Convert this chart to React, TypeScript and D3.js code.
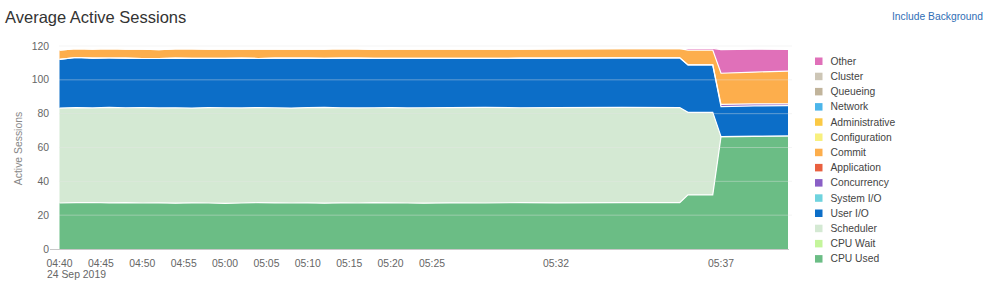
import React from "react";
import * as d3 from "d3";

const times = [
  "04:40:00", "04:42:00", "04:44:00", "04:46:00", "04:48:00", "04:50:00", "04:52:00", "04:54:00",
  "04:56:00", "04:58:00", "05:00:00", "05:02:00", "05:04:00", "05:06:00", "05:08:00", "05:10:00",
  "05:12:00", "05:14:00", "05:16:00", "05:18:00", "05:20:00", "05:22:00", "05:24:00", "05:26:00",
  "05:28:00", "05:30:00", "05:32:00", "05:34:00", "05:35:45", "05:36:00", "05:36:45", "05:37:00",
  "05:38:00", "05:39:00",
];

const cpuUsed = [
  27.2, 27.4, 27.5, 27.3, 27.4, 27.2, 27.3, 27.1, 27.3, 27.2, 27.0, 27.2, 27.4, 27.3, 27.2, 27.3,
  27.1, 27.3, 27.2, 27.4, 27.3, 27.2, 27.1, 27.3, 27.2, 27.4, 27.3, 27.4, 27.4, 32.0, 32.0, 66.4,
  66.6, 66.8,
];
const cpuWait = times.map(() => 0);
const scheduler = [
  56.1, 56.2, 55.9, 56.4, 56.1, 56.4, 56.1, 56.4, 56.0, 56.4, 56.5, 56.2, 56.2, 56.2, 56.1, 56.3,
  56.6, 56.2, 56.2, 56.1, 56.3, 56.2, 56.4, 56.3, 56.5, 56.1, 56.3, 56.3, 56.2, 48.8, 48.8, 0,
  0, 0,
];
const userIO = [
  28.8, 29.6, 29.4, 29.2, 29.3, 29.0, 29.2, 29.3, 29.4, 29.1, 29.2, 29.4, 29.0, 29.3, 29.5, 29.2,
  29.0, 29.3, 29.4, 29.2, 29.1, 29.3, 29.2, 29.1, 29.0, 29.3, 29.2, 29.3, 29.4, 28.0, 28.0, 17.8,
  18.0, 17.9,
];
const systemIO = times.map(() => 0);
const concurrency = [
  0, 0, 0, 0, 0, 0, 0, 0, 0, 0, 0, 0, 0, 0, 0, 0,
  0, 0, 0, 0, 0, 0, 0, 0, 0, 0, 0, 0, 0, 0, 0, 1.3,
  1.2, 1.1,
];
const application = times.map(() => 0);
const commit = [
  5.5, 5.3, 5.4, 5.6, 5.4, 5.5, 5.3, 5.5, 5.6, 5.4, 5.5, 5.3, 5.6, 5.4, 5.3, 5.5,
  5.4, 5.6, 5.5, 5.3, 5.5, 5.4, 5.6, 5.5, 5.4, 5.3, 5.5, 5.4, 5.5, 8.8, 8.8, 18.4,
  18.8, 19.4,
];
const configuration = times.map(() => 0);
const administrative = times.map(() => 0);
const network = times.map(() => 0);
const queueing = times.map(() => 0);
const cluster = times.map(() => 0);
const other = [
  0, 0, 0, 0, 0, 0, 0, 0, 0, 0, 0, 0, 0, 0, 0, 0,
  0, 0, 0, 0, 0, 0, 0, 0, 0, 0, 0, 0, 0, 1.0, 1.0, 14.0,
  13.5, 12.8,
];

// legend order (top to bottom)
const seriesNames = [
  "Other", "Cluster", "Queueing", "Network", "Administrative", "Configuration", "Commit",
  "Application", "Concurrency", "System I/O", "User I/O", "Scheduler", "CPU Wait", "CPU Used",
];
const seriesValues = [
  other, cluster, queueing, network, administrative, configuration, commit,
  application, concurrency, systemIO, userIO, scheduler, cpuWait, cpuUsed,
];
const seriesColors = [
  "#e070b9", "#cdc6b6", "#c1b49b", "#4cb5ea", "#fbc944", "#f8f07f", "#fdae4c",
  "#e9603f", "#8a5fc6", "#6fd3de", "#0c6ec8", "#d4e9d3", "#c4f59b", "#6bbd85",
];

const yTicks = [0, 20, 40, 60, 80, 100, 120];
const xTickLabels = [
  "04:40", "04:45", "04:50", "04:55", "05:00", "05:05", "05:10", "05:15", "05:20", "05:25",
  "05:32", "05:37",
];
const dateLabel = "24 Sep 2019";
const title = "Average Active Sessions";
const yTitle = "Active Sessions";
const linkText = "Include Background";

const FONT = "'Liberation Sans', Arial, Helvetica, sans-serif";

export default function App() {
  const W = 994;
  const H = 284;
  const parse = d3.timeParse("%H:%M:%S");
  const parseHM = d3.timeParse("%H:%M");
  const dates = times.map((t) => parse(t) as Date);

  const x = d3
    .scaleTime()
    .domain(["04:40", "05:25", "05:32", "05:37", "05:39"].map((t) => parseHM(t) as Date))
    .range([59.5, 432, 556, 721, 788]);
  const y = d3.scaleLinear().domain([0, 120]).range([249, 46]);

  const stackOrder = seriesNames.slice().reverse();
  const rows = dates.map((d, i) => {
    const r: any = { date: d };
    seriesNames.forEach((n, k) => (r[n] = seriesValues[k][i]));
    return r;
  });
  const stacked = d3.stack<any>().keys(stackOrder)(rows);
  const colorOf = (n: string) => seriesColors[seriesNames.indexOf(n)];

  const area = d3
    .area<any>()
    .x((d) => x(d.data.date))
    .y0((d) => y(d[0]))
    .y1((d) => y(d[1]));
  const topLine = d3
    .line<any>()
    .x((d) => x(d.data.date))
    .y((d) => y(d[1]));

  return (
    <svg width={W} height={H} style={{ position: "absolute", left: 0, top: 0, background: "#fff" }} fontFamily={FONT}>
      <text x={5} y={23} fontSize={16.5} fill="#333">{title}</text>
      <text x={983} y={20} fontSize={10.3} fill="#2f6eb5" textAnchor="end">{linkText}</text>

      {/* areas */}
      {stacked.map((s) => (
        <path key={s.key} d={area(s) || ""} fill={colorOf(s.key)} stroke="none" />
      ))}
      {stacked.map((s) => {
        const hasData = s.some((d) => d[1] - d[0] > 0);
        return hasData ? (
          <path key={s.key + "-l"} d={topLine(s) || ""} fill="none" stroke="#fff" strokeWidth={1.2} />
        ) : null;
      })}

      {/* gridlines */}
      {yTicks.filter((t) => t > 0).map((t) => (
        <line key={t} x1={59} x2={792} y1={y(t)} y2={y(t)} stroke="#e6e6e6" strokeOpacity={0.4} strokeWidth={1} />
      ))}
      {/* baseline */}
      <line x1={50} x2={789} y1={y(0) + 0.5} y2={y(0) + 0.5} stroke="#c8c8c8" strokeWidth={1} />

      {/* y ticks */}
      {yTicks.map((t) => (
        <text key={t} x={49} y={y(t) + 3.6} fontSize={10.4} fill="#666" textAnchor="end">{t}</text>
      ))}
      <text
        transform={`translate(22,${(y(0) + y(120)) / 2 + 1}) rotate(-90)`}
        fontSize={10.4}
        fill="#888"
        textAnchor="middle"
      >
        {yTitle}
      </text>

      {/* x ticks */}
      {xTickLabels.map((t) => (
        <text key={t} x={x(parseHM(t) as Date)} y={267} fontSize={10.4} fill="#666" textAnchor="middle">{t}</text>
      ))}
      <text x={47} y={278} fontSize={10.4} fill="#666">{dateLabel}</text>

      {/* legend */}
      {seriesNames.map((n, i) => (
        <g key={n} transform={`translate(815,${61 + i * 15.2})`}>
          <rect x={0} y={-3.5} width={7.5} height={7.5} fill={seriesColors[i]} />
          <text x={15.5} y={3.8} fontSize={10.3} fill="#444">{n}</text>
        </g>
      ))}
    </svg>
  );
}
